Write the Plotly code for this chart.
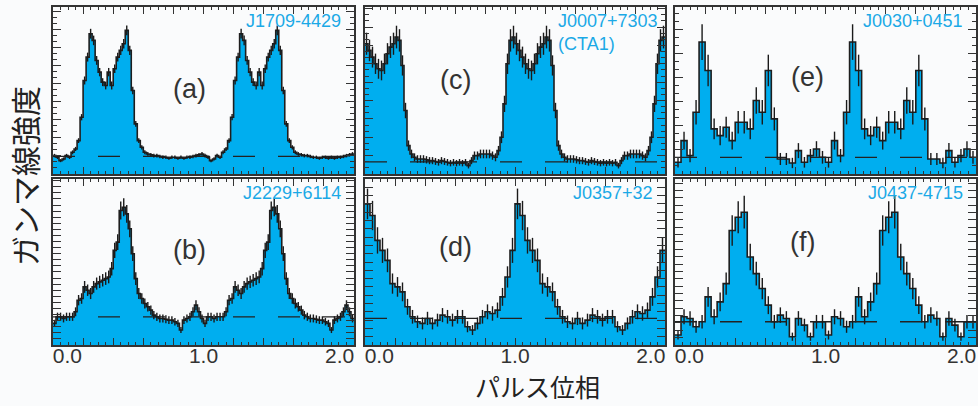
import plotly.graph_objects as go
import math

# ---------------- data (one pulse cycle per pulsar, relative intensity) ----------------
names = ["J1709-4429", "J0007+7303<br>(CTA1)", "J0030+0451",
         "J2229+6114", "J0357+32", "J0437-4715"]
letters = ["(a)", "(c)", "(e)", "(b)", "(d)", "(f)"]

profile_a = [0.11, 0.10, 0.08, 0.09, 0.11, 0.10, 0.13, 0.15, 0.20, 0.34,
             0.56, 0.70, 0.84, 0.80, 0.68, 0.61, 0.55, 0.53, 0.61, 0.53,
             0.63, 0.70, 0.74, 0.78, 0.86, 0.74, 0.50, 0.30, 0.20, 0.16,
             0.13, 0.12, 0.115, 0.11, 0.11, 0.105, 0.10, 0.10, 0.095, 0.10,
             0.10, 0.095, 0.10, 0.095, 0.10, 0.10, 0.105, 0.11, 0.115, 0.12]

profile_c = [0.78, 0.74, 0.70, 0.66, 0.63, 0.62, 0.66, 0.72, 0.76, 0.78,
             0.82, 0.80, 0.65, 0.38, 0.17, 0.12, 0.10, 0.09, 0.09, 0.09,
             0.085, 0.08, 0.08, 0.075, 0.07, 0.08, 0.075, 0.07, 0.065, 0.07,
             0.065, 0.07, 0.065, 0.07, 0.05, 0.08, 0.11, 0.11, 0.12, 0.12,
             0.12, 0.12, 0.11, 0.10, 0.14, 0.22, 0.42, 0.66, 0.80, 0.82]

profile_e = [0.07, 0.20, 0.11, 0.37, 0.79, 0.62, 0.27, 0.23, 0.28, 0.20,
             0.31, 0.31, 0.27, 0.44, 0.37, 0.62, 0.33, 0.09, 0.09, 0.066,
             0.14, 0.07, 0.11, 0.15, 0.10]

profile_b = [0.13, 0.17, 0.17, 0.16, 0.17, 0.17, 0.17, 0.20, 0.27, 0.28,
             0.35, 0.33, 0.31, 0.35, 0.37, 0.38, 0.39, 0.40, 0.41, 0.46,
             0.57, 0.62, 0.81, 0.83, 0.79, 0.70, 0.55, 0.40, 0.31, 0.28,
             0.25, 0.23, 0.21, 0.18, 0.17, 0.16, 0.16, 0.155, 0.15, 0.15,
             0.14, 0.13, 0.09, 0.15, 0.16, 0.17, 0.20, 0.24, 0.20, 0.16]

profile_d = [0.85, 0.78, 0.63, 0.57, 0.51, 0.37, 0.35, 0.32, 0.23, 0.17,
             0.14, 0.13, 0.16, 0.13, 0.15, 0.18, 0.17, 0.15, 0.17, 0.17,
             0.11, 0.09, 0.13, 0.17, 0.20, 0.19, 0.21, 0.29, 0.41, 0.57]

profile_f = [0.06, 0.17, 0.16, 0.11, 0.14, 0.29, 0.17, 0.26, 0.37, 0.69,
             0.77, 0.80, 0.53, 0.43, 0.34, 0.24, 0.14, 0.18, 0.16, 0.05,
             0.16, 0.12, 0.05, 0.14, 0.14]

profiles = [profile_a, profile_c, profile_e, profile_b, profile_d, profile_f]
background = [0.105, 0.073, 0.10, 0.17, 0.16, 0.14]
err_scale = [0.032, 0.075, 0.12, 0.06, 0.10, 0.11]
major_ytick = [0.108, 0.11, 0.144, 0.11, 0.2, 0.133]
minor_div = [3, 3, 3, 3, 4, 3]

x_major = [round(0.2 * i, 1) for i in range(11)]
x_label_text = ["0.0", "1.0", "2.0"]
x_label_pos = [0.095, 1.0, 1.905]   # label centres kept inside the frame, as in the figure

# ---------------- layout geometry ----------------
W, H = 978, 406
col_dom = [[53 / W, 354 / W], [365 / W, 665 / W], [675 / W, 976 / W]]
row_dom = [[1 - 174 / H, 1 - 7 / H], [1 - 345 / H, 1 - 179 / H]]

letter_pos = [(0.91, 0.51), (0.60, 0.56), (0.88, 0.58),
              (0.91, 0.57), (0.60, 0.59), (0.85, 0.62)]

CYAN = "#00AEEF"
TEXTCYAN = "#1BA9E6"
FONT = "Liberation Sans, Arial, sans-serif"

fig = go.Figure()
layout = dict(width=W, height=H, margin=dict(l=0, r=0, t=0, b=0, autoexpand=False),
              paper_bgcolor="#fafbfc", plot_bgcolor="#fafbfc",
              showlegend=False, annotations=[])

for k, prof in enumerate(profiles):
    ax = "" if k == 0 else str(k + 1)
    xa, ya = "x" + ax, "y" + ax
    n = len(prof)
    w = 1.0 / n
    vals = prof + prof
    edges = [i * w for i in range(2 * n + 1)]
    ys = vals + [vals[-1]]
    fig.add_trace(go.Scatter(x=edges, y=ys, mode="lines",
                             line=dict(shape="hv", color="#1e1e1e", width=1.6),
                             fill="tozeroy", fillcolor=CYAN,
                             xaxis=xa, yaxis=ya, hoverinfo="skip"))
    fig.add_trace(go.Scatter(x=[0, 2], y=[background[k]] * 2, mode="lines",
                             line=dict(color="#222", width=1.3, dash="22px,23px"),
                             xaxis=xa, yaxis=ya, hoverinfo="skip"))
    centers = [(i + 0.5) * w for i in range(2 * n)]
    errs = [err_scale[k] * math.sqrt(v) for v in vals]
    fig.add_trace(go.Scatter(x=centers, y=vals, mode="markers",
                             marker=dict(size=1, color="rgba(0,0,0,0)"),
                             error_y=dict(type="data", array=errs, color="#1a1a1a",
                                          thickness=1.4, width=0),
                             xaxis=xa, yaxis=ya, hoverinfo="skip"))

    row, col = divmod(k, 3)
    bottom = row == 1
    layout["xaxis" + ax] = dict(
        domain=col_dom[col], anchor=ya, range=[0, 2], showgrid=False, zeroline=False,
        automargin=False,
        showline=True, linecolor="#333", linewidth=1.5, mirror="allticks",
        ticks="inside", ticklen=7, tickcolor="#333", tickwidth=1,
        tickmode="array", tickvals=x_major, showticklabels=False,
        minor=dict(ticks="inside", ticklen=3, dtick=0.05, tickcolor="#333", tickwidth=1),
    )
    layout["yaxis" + ax] = dict(
        domain=row_dom[row], anchor=xa, range=[0, 1], showgrid=False, zeroline=False,
        automargin=False,
        showline=True, linecolor="#333", linewidth=1.5, mirror="allticks",
        ticks="inside", ticklen=8, tickcolor="#333", tickwidth=1,
        tick0=0, dtick=major_ytick[k], showticklabels=False,
        minor=dict(ticks="inside", ticklen=4, dtick=major_ytick[k] / minor_div[k],
                   tickcolor="#333", tickwidth=1),
    )
    if bottom:
        # label-only axis on top of the bottom-row axis
        lid = str(7 + col)
        layout["xaxis" + lid] = dict(
            overlaying=xa, anchor=ya, side="bottom", range=[0, 2],
            showgrid=False, zeroline=False, showline=False, ticks="",
            automargin=False, tickmode="array", tickvals=x_label_pos,
            ticktext=x_label_text, ticklabelstandoff=-4,
            tickfont=dict(family=FONT, size=21, color="#333"),
        )
        fig.add_trace(go.Scatter(x=[0, 2], y=[0, 0], mode="lines",
                                 line=dict(width=0, color="rgba(0,0,0,0)"),
                                 xaxis="x" + lid, yaxis=ya, hoverinfo="skip"))
    lx, ly = letter_pos[k]
    layout["annotations"].append(dict(
        x=lx, y=ly, xref=xa, yref=ya, text=letters[k], showarrow=False,
        xanchor="center", yanchor="middle",
        font=dict(family=FONT, size=27, color="#333")))
    if k == 1:
        layout["annotations"].append(dict(
            x=1.27, y=0.99, xref=xa, yref=ya, text=names[k], showarrow=False,
            xanchor="left", yanchor="top", align="left",
            font=dict(family=FONT, size=18, color=TEXTCYAN)))
    else:
        layout["annotations"].append(dict(
            x=1.93, y=0.99, xref=xa, yref=ya, text=names[k], showarrow=False,
            xanchor="right", yanchor="top",
            font=dict(family=FONT, size=18, color=TEXTCYAN)))

layout["annotations"].append(dict(
    x=24 / W, y=1 - 176 / H, xref="paper", yref="paper", text="ガンマ線強度",
    textangle=-90, showarrow=False, xanchor="center", yanchor="middle",
    font=dict(family="Noto Sans CJK JP", size=30, color="#222")))
layout["annotations"].append(dict(
    x=537 / W, y=1 - 386 / H, xref="paper", yref="paper", text="パルス位相",
    showarrow=False, xanchor="center", yanchor="middle",
    font=dict(family="Noto Sans CJK JP", size=25, color="#222")))

fig.update_layout(**layout)
fig.write_html("out.html")
